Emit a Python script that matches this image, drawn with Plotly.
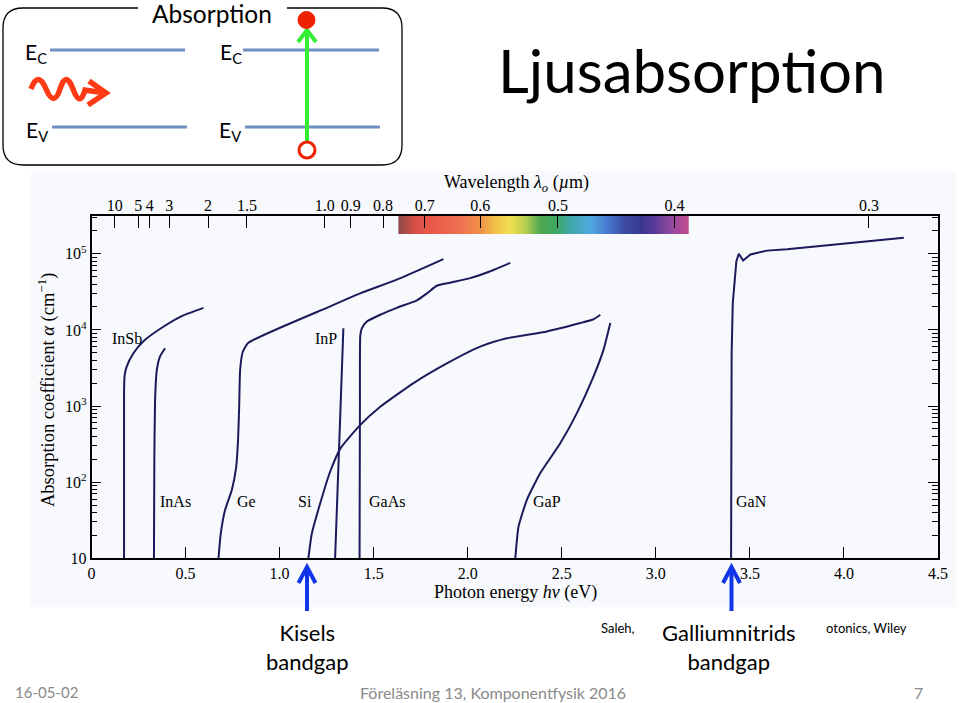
import plotly.graph_objects as go
import numpy as np

W, H = 960, 703
def PX(x): return x / W
def PY(y): return 1 - y / H

# ---------------- data (photon energy eV, absorption coefficient cm^-1) ----------------
insb_e = [0.173, 0.173, 0.176, 0.187, 0.222, 0.276, 0.382, 0.488, 0.595]
insb_a = [10, 1500, 2500, 3300, 4900, 7100, 11000, 15500, 19500]

inas_e = [0.332, 0.334, 0.338, 0.347, 0.364, 0.391]
inas_a = [10, 195, 1200, 2950, 4470, 5750]

ge_e = [0.675, 0.687, 0.710, 0.746, 0.769, 0.779, 0.785, 0.790, 0.804, 0.834, 1.269, 1.428, 1.623, 1.871]
ge_a = [10, 21, 43, 79, 158, 355, 977, 2950, 5130, 6760, 20400, 30200, 45700, 85100]

inp_e = [1.295, 1.317, 1.339]
inp_a = [10, 330, 10500]

gaas_e = [1.425, 1.427, 1.429, 1.437, 1.464, 1.535, 1.623, 1.730, 1.783, 1.836, 1.907, 2.013, 2.120, 2.226]
gaas_a = [10, 1000, 8500, 10500, 12900, 15800, 19500, 24500, 30200, 38000, 41700, 47900, 58900, 75900]

si_e = [1.153, 1.171, 1.215, 1.269, 1.325, 1.428, 1.535, 1.712, 1.889, 2.066, 2.208, 2.421, 2.598, 2.669, 2.705]
si_a = [10, 21, 52, 138, 282, 562, 977, 2000, 3630, 6030, 7760, 9550, 12300, 13800, 15800]

gap_e = [2.253, 2.270, 2.315, 2.386, 2.492, 2.581, 2.669, 2.722, 2.758]
gap_a = [10, 26, 59, 132, 324, 813, 2450, 5500, 12300]

gan_e = [3.400, 3.401, 3.403, 3.409, 3.418, 3.428, 3.441, 3.464, 3.503, 3.591, 3.698, 3.875, 4.052, 4.318]
gan_a = [10, 631, 4900, 22400, 45700, 79400, 100000, 81300, 97700, 110000, 115000, 126000, 141000, 162000]

materials = ["InSb", "InAs", "Ge", "Si", "InP", "GaAs", "GaP", "GaN"]
label_e = [0.189, 0.444, 0.822, 1.136, 1.247, 1.572, 2.423, 3.508]
label_a = [7600, 55, 55, 55, 7600, 55, 55, 55]

energy_ticks = [0, 0.5, 1.0, 1.5, 2.0, 2.5, 3.0, 3.5, 4.0, 4.5]
energy_ticktext = ["0", "0.5", "1.0", "1.5", "2.0", "2.5", "3.0", "3.5", "4.0", "4.5"]
wl_ticks = [10, 5, 4, 3, 2, 1.5, 1.0, 0.9, 0.8, 0.7, 0.6, 0.5, 0.4, 0.3]
wl_ticktext = ["10", "5", "4", "3", "2", "1.5", "1.0", "0.9", "0.8", "0.7", "0.6", "0.5", "0.4", "0.3"]
alpha_ticks = [10, 100, 1000, 10000, 100000]
alpha_ticktext = ["10", "10<sup>2</sup>", "10<sup>3</sup>", "10<sup>4</sup>", "10<sup>5</sup>"]

# visible spectrum colour stops (wavelength um, colour)
spec_wl = [0.760, 0.720, 0.689, 0.633, 0.600, 0.578, 0.557, 0.538, 0.520, 0.503,
           0.487, 0.467, 0.452, 0.437, 0.425, 0.414, 0.403, 0.391]
spec_col = ["#8a4a48", "#d85048", "#e85848", "#ee7050", "#f09048", "#f0c048", "#f0e050",
            "#b8d050", "#50a850", "#40a860", "#40a8a8", "#50a8e0", "#4878d0", "#3c4ca0",
            "#383890", "#5a3c98", "#9048a0", "#c04c90"]

HC = 1.2398  # eV*um

# ---------------- geometry ----------------
x0p, x1p = 91.5, 938.0
ytp, ybp = 215.7, 558.3
serif = "Liberation Serif, Times New Roman, serif"
sans = "Lato, Open Sans, sans-serif"
curve_col = "#1b1b5c"

fig = go.Figure()
series = [(insb_e, insb_a, "spline"), (inas_e, inas_a, "spline"), (ge_e, ge_a, "spline"),
          (inp_e, inp_a, "linear"), (gaas_e, gaas_a, "spline"), (si_e, si_a, "spline"),
          (gap_e, gap_a, "spline"), (gan_e, gan_a, "linear")]
for e, a, shp in series:
    fig.add_trace(go.Scatter(x=e, y=a, mode="lines",
                             line=dict(color=curve_col, width=2, shape=shp, smoothing=0.5),
                             showlegend=False, hoverinfo="skip"))
fig.add_trace(go.Scatter(x=[None], y=[None], xaxis="x2", yaxis="y", showlegend=False, hoverinfo="skip"))

minor_vals = [m * 10 ** d for d in range(1, 6) for m in range(2, 10) if m * 10 ** d <= 10 ** 5.5]

fig.update_layout(
    width=W, height=H, margin=dict(l=0, r=0, t=0, b=0, pad=0, autoexpand=False),
    paper_bgcolor="white", plot_bgcolor="rgba(0,0,0,0)", showlegend=False,
    xaxis=dict(domain=[PX(x0p), PX(x1p)], range=[0, 4.5], tickmode="array",
               tickvals=energy_ticks, ticktext=energy_ticktext,
               ticks="inside", ticklen=12, tickwidth=1.3, tickcolor="black",
               showline=True, linecolor="black", linewidth=1.5, mirror=True,
               showgrid=False, zeroline=False, anchor="y", automargin=False,
               tickfont=dict(family=serif, size=16, color="black"), ticklabelstandoff=0),
    xaxis2=dict(overlaying="x", side="top", range=[0, 4.5], tickmode="array",
                tickvals=[HC / w for w in wl_ticks], ticktext=wl_ticktext,
                ticks="inside", ticklen=12, tickwidth=1.3, tickcolor="black",
                showline=False, showgrid=False, zeroline=False, anchor="y", automargin=False,
                tickfont=dict(family=serif, size=16, color="black"), ticklabelstandoff=1),
    yaxis=dict(domain=[PY(ybp), PY(ytp)], type="log", range=[1, 5.5], tickmode="array",
               tickvals=alpha_ticks, ticktext=alpha_ticktext,
               ticks="inside", ticklen=10, tickwidth=1.3, tickcolor="black",
               minor=dict(ticks="inside", ticklen=6, tickwidth=1, tickcolor="black",
                          tickvals=minor_vals, showgrid=False),
               showline=True, linecolor="black", linewidth=1.5, mirror="ticks",
               showgrid=False, zeroline=False, anchor="x", automargin=False,
               tickfont=dict(family=serif, size=16, color="black"), ticklabelstandoff=0),
)

shapes = []
# chart picture background
shapes.append(dict(type="rect", xref="paper", yref="paper", x0=PX(31), x1=PX(956), y0=PY(607), y1=PY(171),
                   fillcolor="#f7f9fc", line=dict(width=0), layer="below"))
# spectrum bar
spec_e = [HC / w for w in spec_wl]
rgb = [tuple(int(c[i:i + 2], 16) for i in (1, 3, 5)) for c in spec_col]
N = 180
edges = np.linspace(spec_e[0], spec_e[-1], N + 1)
for i in range(N):
    ec = 0.5 * (edges[i] + edges[i + 1])
    col = [int(round(np.interp(ec, spec_e, [c[k] for c in rgb]))) for k in range(3)]
    shapes.append(dict(type="rect", xref="x", yref="paper", x0=edges[i], x1=edges[i + 1] + 0.004,
                       y0=PY(234), y1=PY(ytp), fillcolor="rgb(%d,%d,%d)" % tuple(col),
                       line=dict(width=0), layer="below"))

def path(pts, close=False):
    s = "M" + " L".join("%.5f,%.5f" % (PX(x), PY(y)) for x, y in pts)
    return s + (" Z" if close else "")

# inset box with gap for title
r = 20
bx0, by0, bx1, by1 = 3, 8, 402, 165
box = ("M%.5f,%.5f L%.5f,%.5f Q%.5f,%.5f %.5f,%.5f L%.5f,%.5f Q%.5f,%.5f %.5f,%.5f "
       "L%.5f,%.5f Q%.5f,%.5f %.5f,%.5f L%.5f,%.5f Q%.5f,%.5f %.5f,%.5f L%.5f,%.5f") % (
    PX(138), PY(by0), PX(bx0 + r), PY(by0), PX(bx0), PY(by0), PX(bx0), PY(by0 + r),
    PX(bx0), PY(by1 - r), PX(bx0), PY(by1), PX(bx0 + r), PY(by1),
    PX(bx1 - r), PY(by1), PX(bx1), PY(by1), PX(bx1), PY(by1 - r),
    PX(bx1), PY(by0 + r), PX(bx1), PY(by0), PX(bx1 - r), PY(by0),
    PX(287), PY(by0))
shapes.append(dict(type="path", xref="paper", yref="paper", path=box, line=dict(color="black", width=1.3)))

level_col = "#6d90c0"
for (a, b, y) in [(50, 185, 50), (52, 187, 127), (243, 379, 50), (245, 380, 127)]:
    shapes.append(dict(type="line", xref="paper", yref="paper", x0=PX(a), x1=PX(b), y0=PY(y), y1=PY(y),
                       line=dict(color=level_col, width=3)))

# red photon wave
wave = "M%.5f,%.5f Q%.5f,%.5f %.5f,%.5f T%.5f,%.5f T%.5f,%.5f T%.5f,%.5f L%.5f,%.5f" % (
    PX(31), PY(89), PX(38), PY(70), PX(46), PY(89), PX(60), PY(89), PX(73), PY(89), PX(85), PY(90),
    PX(105), PY(93))
shapes.append(dict(type="path", xref="paper", yref="paper", path=wave, line=dict(color="#ff3a14", width=5.5)))
shapes.append(dict(type="path", xref="paper", yref="paper", path=path([(89, 81), (106, 93), (88, 105)]),
                   line=dict(color="#ff3a14", width=5.5)))

# green excitation arrow
shapes.append(dict(type="line", xref="paper", yref="paper", x0=PX(307), x1=PX(307), y0=PY(148), y1=PY(29),
                   line=dict(color="#33ee33", width=4)))
shapes.append(dict(type="path", xref="paper", yref="paper", path=path([(298, 42), (307, 30), (316, 42)]),
                   line=dict(color="#33ee33", width=4)))
shapes.append(dict(type="circle", xref="paper", yref="paper", x0=PX(298), x1=PX(315), y0=PY(28.5), y1=PY(11.5),
                   fillcolor="#ee2200", line=dict(color="#ee2200", width=1)))
shapes.append(dict(type="circle", xref="paper", yref="paper", x0=PX(299), x1=PX(315), y0=PY(158), y1=PY(142),
                   fillcolor="white", line=dict(color="#ee2200", width=3)))

# blue bandgap arrows
for xa in [307, 731.5]:
    shapes.append(dict(type="line", xref="paper", yref="paper", x0=PX(xa), x1=PX(xa), y0=PY(611), y1=PY(567),
                       line=dict(color="#1034e8", width=4)))
    shapes.append(dict(type="path", xref="paper", yref="paper",
                       path=path([(xa - 8.5, 583), (xa, 567), (xa + 8.5, 583)]),
                       line=dict(color="#1034e8", width=4)))

fig.update_layout(shapes=shapes)

ann = []
for name, e, a in zip(materials, label_e, label_a):
    ann.append(dict(x=e, y=np.log10(a), xref="x", yref="y", text=name, showarrow=False,
                    font=dict(family=serif, size=16, color="black")))

def T(x, y, text, size, family=sans, color="black", **kw):
    d = dict(x=PX(x), y=PY(y), xref="paper", yref="paper", text=text, showarrow=False,
             font=dict(family=family, size=size, color=color), xanchor="center", yanchor="middle")
    d.update(kw)
    ann.append(d)

T(515, 592, "Photon energy <i>hν</i> (eV)", 18, family=serif)
T(516, 183, "Wavelength <i>λ<sub>o</sub></i> (<i>µ</i>m)", 18, family=serif)
T(46, 390, "Absorption coefficient <i>α</i> (cm<sup>−1</sup>)", 18.5, family=serif, textangle=-90)

T(692, 70, "Ljusabsorption", 60)
T(212, 13, "Absorption", 24.5)
T(36, 53, "E<sub>C</sub>", 21)
T(37, 131, "E<sub>V</sub>", 21)
T(231, 53, "E<sub>C</sub>", 21)
T(230, 131, "E<sub>V</sub>", 21)

T(307, 647, "Kisels<br>bandgap", 22)
T(729, 647, "Galliumnitrids<br>bandgap", 22)
T(618, 628, "Saleh,", 13)
T(866, 628, "otonics, Wiley", 13)

T(46, 692, "16-05-02", 15, color="#8a8a8a")
T(493, 692, "Föreläsning 13, Komponentfysik 2016", 16, color="#8a8a8a")
T(918, 692, "7", 16, color="#8a8a8a")

fig.update_layout(annotations=ann)
fig.write_html("out.html", config={"displayModeBar": False},
               post_script="document.body.style.margin='0';document.body.style.padding='0';"
                           "document.body.style.overflow='hidden';")
